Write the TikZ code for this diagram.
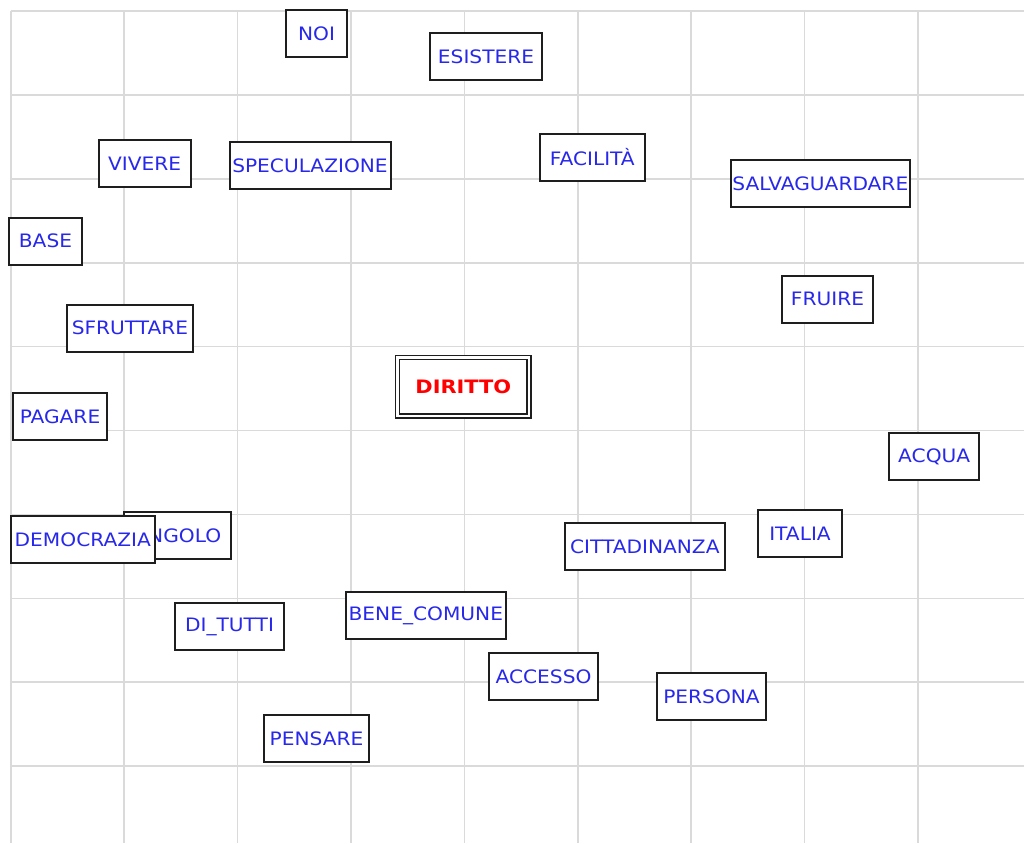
\documentclass[tikz,border=0pt]{standalone}
\usepackage{fontspec}
\setmainfont{DejaVu Sans}
\usepackage{graphicx}
\definecolor{gridc}{RGB}{218,218,218}
\definecolor{txtblue}{RGB}{40,40,235}
\definecolor{boxc}{RGB}{30,30,30}
\newcommand{\lbl}[1]{\scalebox{1.09}[1]{#1}}
\newcommand{\blbl}[1]{\scalebox{1.13}[1]{\bfseries #1}}
\tikzset{
  wbox/.style={draw=boxc, line width=2pt, fill=white, inner sep=0pt, outer sep=0pt,
    text=txtblue, font=\fontsize{18.5}{20}\selectfont, minimum height=47pt},
  mainbox/.style={draw=boxc, double=white, double distance=2.2pt, line width=1.6pt,
    fill=white, inner sep=0pt, text=red, font=\fontsize{18.5}{20}\selectfont},
}
\begin{document}
\begin{tikzpicture}[x=1pt,y=-1pt]
\useasboundingbox (0,0) rectangle (1024,843);
\fill[white] (0,0) rectangle (1024,843);
% grid
\foreach \k in {0,...,8} {
  \draw[gridc, line width=1.6pt] ({10.7+113.4*\k},11) -- ({10.7+113.4*\k},843);
}
\foreach \k in {0,...,9} {
  \draw[gridc, line width=1.6pt] (10.7,{11+83.9*\k}) -- (1024,{11+83.9*\k});
}
% nodes
\node[wbox, minimum width=61pt] (noi) at (316.5,34) {\lbl{NOI}};
\node[wbox, minimum width=112pt] (esistere) at (486,56.5) {\lbl{ESISTERE}};
\node[wbox, minimum width=92pt] (vivere) at (144.7,163.7) {\lbl{VIVERE}};
\node[wbox, minimum width=161pt] (speculazione) at (310,165.8) {\lbl{SPECULAZIONE}};
\node[wbox, minimum width=104.7pt] (facilita) at (592.3,157) {\lbl{FACILITÀ}};
\node[wbox, minimum width=178.7pt] (salvaguardare) at (820.3,183.7) {\lbl{SALVAGUARDARE}};
\node[wbox, minimum width=73pt] (base) at (45.5,241) {\lbl{BASE}};
\node[wbox, minimum width=91pt] (fruire) at (827.5,299) {\lbl{FRUIRE}};
\node[wbox, minimum width=126pt] (sfruttare) at (130,328) {\lbl{SFRUTTARE}};
\node[mainbox, minimum width=131.7pt, minimum height=58.5pt] (diritto) at (463.3,386.7) {\blbl{DIRITTO}};
\node[wbox, minimum width=94pt] (pagare) at (60,416.5) {\lbl{PAGARE}};
\node[wbox, minimum width=89.7pt] (acqua) at (934.2,456.7) {\lbl{ACQUA}};
\node[wbox, minimum width=107pt] (angolo) at (177.8,535.8) {\lbl{ANGOLO}};
\node[wbox, minimum width=143.7pt] (democrazia) at (82.8,539.5) {\lbl{DEMOCRAZIA}};
\node[wbox, minimum width=159.7pt] (cittadinanza) at (644.8,546.7) {\lbl{CITTADINANZA}};
\node[wbox, minimum width=84pt] (italia) at (800,533.5) {\lbl{ITALIA}};
\node[wbox, minimum width=109pt] (dituti) at (229.5,626.5) {\lbl{DI\_TUTTI}};
\node[wbox, minimum width=159.7pt] (benecomune) at (425.8,615.5) {\lbl{BENE\_COMUNE}};
\node[wbox, minimum width=109pt] (accesso) at (543.5,676.5) {\lbl{ACCESSO}};
\node[wbox, minimum width=109pt] (persona) at (711.5,696.5) {\lbl{PERSONA}};
\node[wbox, minimum width=105pt] (pensare) at (316.5,738.5) {\lbl{PENSARE}};
\end{tikzpicture}
\end{document}
